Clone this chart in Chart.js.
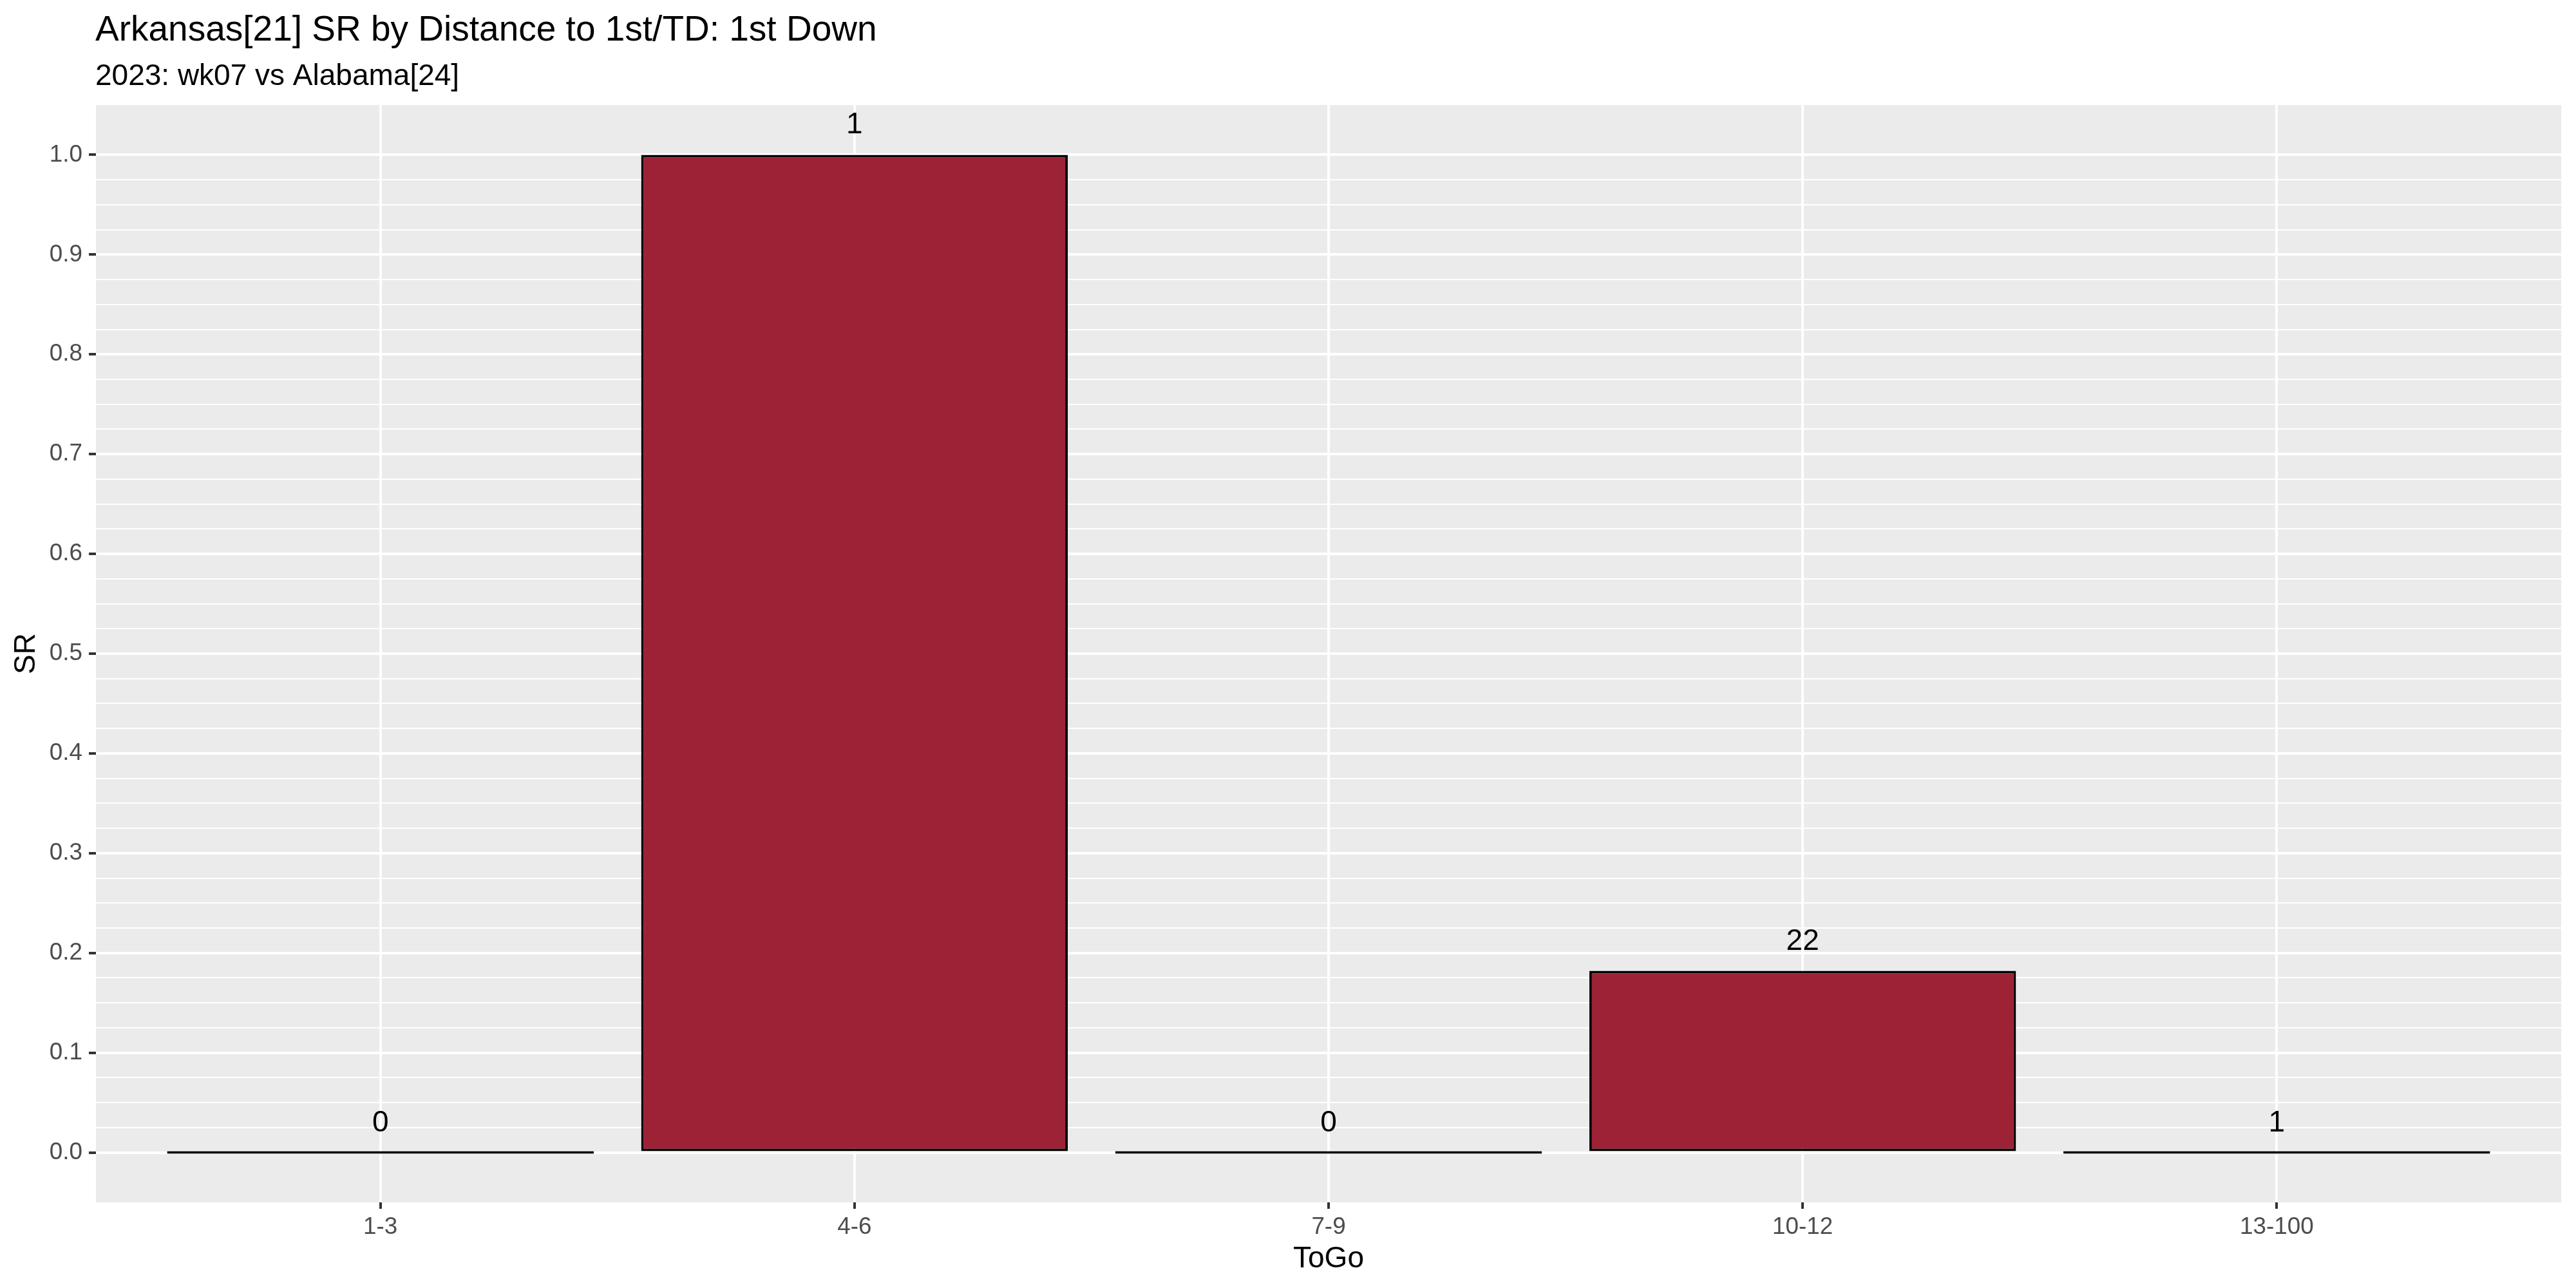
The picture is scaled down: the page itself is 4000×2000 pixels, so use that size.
<!DOCTYPE html>
<html>
<head>
<meta charset="utf-8">
<title>Arkansas SR by Distance</title>
<script src="https://cdn.jsdelivr.net/npm/chart.js@4"></script>
<style>
  html, body { margin: 0; padding: 0; background: #fff; }
  #wrap { width: 4000px; height: 2000px; }
</style>
</head>
<body>
<div id="wrap"><canvas id="chart" width="4000" height="2000"></canvas></div>
<script>
// ── Data ───────────────────────────────────────────────
const categories = ['1-3', '4-6', '7-9', '10-12', '13-100'];
const srValues = [0, 1.0, 0, 0.182, 0];
const playCounts = [0, 1, 0, 22, 1];
const yMajorTicks = [0.0, 0.1, 0.2, 0.3, 0.4, 0.5, 0.6, 0.7, 0.8, 0.9, 1.0];
const minorSplits = 4; // minor grid every 0.025

const titleText = 'Arkansas[21] SR by Distance to 1st/TD: 1st Down';
const subtitleText = '2023: wk07 vs Alabama[24]';
const xTitle = 'ToGo';
const yTitle = 'SR';

// ── Look ───────────────────────────────────────────────
const FONT = "'Liberation Sans', Arial, sans-serif";
const PANEL = '#EBEBEB';
const BAR_FILL = '#9D2235';
const TICK_TEXT = '#4D4D4D';
const TICK_MARK = '#333333';

const isMajor = v => Math.abs(v * 10 - Math.round(v * 10)) < 1e-6;

// all y grid positions: majors plus minor lines between them
const yGridTicks = [];
yMajorTicks.forEach((v, i) => {
  yGridTicks.push(v);
  if (i < yMajorTicks.length - 1) {
    const step = (yMajorTicks[i + 1] - v) / minorSplits;
    for (let k = 1; k < minorSplits; k++) yGridTicks.push(v + step * k);
  }
});

// ── Plugins ────────────────────────────────────────────
const panelBg = {
  id: 'panelBg',
  beforeDraw(chart) {
    const { ctx, chartArea: a } = chart;
    ctx.save();
    ctx.fillStyle = '#fff';
    ctx.fillRect(0, 0, chart.width, chart.height);
    ctx.fillStyle = PANEL;
    ctx.fillRect(a.left, a.top, a.right - a.left, a.bottom - a.top);
    ctx.restore();
  },
};

const barLabels = {
  id: 'barLabels',
  afterDatasetsDraw(chart) {
    const { ctx } = chart;
    const y = chart.scales.y;
    const meta = chart.getDatasetMeta(0);
    ctx.save();
    ctx.fillStyle = '#000';
    ctx.font = `46px ${FONT}`;
    ctx.textAlign = 'center';
    ctx.textBaseline = 'alphabetic';
    meta.data.forEach((bar, i) => {
      ctx.fillText(String(playCounts[i]), bar.x, y.getPixelForValue(srValues[i]) - 33);
    });
    ctx.restore();
  },
};

const titles = {
  id: 'titles',
  afterDraw(chart) {
    const { ctx, chartArea: a } = chart;
    ctx.save();
    ctx.fillStyle = '#000';
    ctx.textAlign = 'left';
    ctx.textBaseline = 'alphabetic';
    ctx.font = `55px ${FONT}`;
    ctx.fillText(titleText, 148, 63);
    ctx.font = `46px ${FONT}`;
    ctx.fillText(subtitleText, 148, 132);

    ctx.textAlign = 'center';
    ctx.fillText(xTitle, (a.left + a.right) / 2, 1968);
    ctx.textBaseline = 'middle';
    ctx.translate(41, (a.top + a.bottom) / 2);
    ctx.rotate(-Math.PI / 2);
    ctx.fillText(yTitle, 0, 0);
    ctx.restore();
  },
};

// ── Chart ──────────────────────────────────────────────
new Chart(document.getElementById('chart'), {
  type: 'bar',
  data: {
    datasets: [{
      data: srValues.map((v, i) => ({ x: i, y: v })),
      backgroundColor: BAR_FILL,
      borderColor: '#000',
      borderWidth: 4,
      borderSkipped: false,
      categoryPercentage: 1,
      barPercentage: 0.9,
      minBarLength: 4,
    }],
  },
  options: {
    responsive: false,
    animation: false,
    devicePixelRatio: 1,
    layout: { padding: { top: 163, right: 23, left: 0, bottom: 0 } },
    plugins: { legend: { display: false }, tooltip: { enabled: false } },
    scales: {
      x: {
        type: 'linear',
        offset: false,
        min: -0.6,
        max: 4.6,
        afterBuildTicks: s => { s.ticks = categories.map((c, i) => ({ value: i })); },
        afterFit: s => { s.height = 133; },
        border: { display: false },
        grid: { offset: false, color: '#fff', lineWidth: 4, tickColor: TICK_MARK, tickWidth: 4, tickLength: 10 },
        ticks: {
          autoSkip: false,
          maxRotation: 0,
          padding: 7,
          color: TICK_TEXT,
          font: { family: FONT, size: 36.8 },
          callback: v => categories[v],
        },
      },
      y: {
        type: 'linear',
        min: -0.05,
        max: 1.05,
        afterBuildTicks: s => { s.ticks = yGridTicks.map(v => ({ value: v })); },
        afterFit: s => { s.width = 149; },
        border: { display: false },
        grid: {
          color: '#fff',
          lineWidth: c => (isMajor(c.tick.value) ? 4 : 2),
          tickColor: c => (isMajor(c.tick.value) ? TICK_MARK : 'rgba(0,0,0,0)'),
          tickWidth: 4,
          tickLength: 11,
        },
        ticks: {
          autoSkip: false,
          padding: 10,
          color: TICK_TEXT,
          font: { family: FONT, size: 36.8 },
          callback: v => (isMajor(v) ? v.toFixed(1) : ''),
        },
      },
    },
  },
  plugins: [panelBg, barLabels, titles],
});
</script>
</body>
</html>
